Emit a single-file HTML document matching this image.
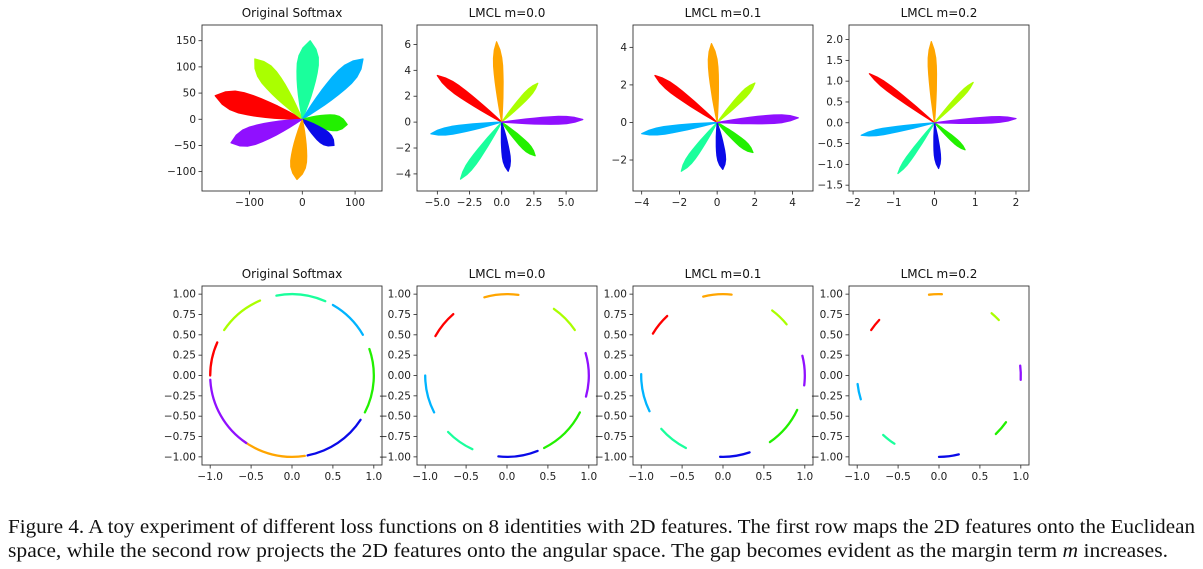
<!DOCTYPE html>
<html><head><meta charset="utf-8"><style>
html,body{margin:0;padding:0;background:#fff;}
svg{display:block;}
.tk{font-family:"DejaVu Sans","Liberation Sans",sans-serif;font-size:10.5px;fill:#222;}
.ti{font-family:"DejaVu Sans","Liberation Sans",sans-serif;font-size:12px;fill:#111;}
.cap{font-family:"Liberation Serif",serif;font-size:19.5px;fill:#111;}
</style></head><body>
<svg id="fig" width="1203" height="569" viewBox="0 0 1203 569">
<text class="cap" x="8" y="533" textLength="1187" lengthAdjust="spacingAndGlyphs">Figure 4. A toy experiment of different loss functions on 8 identities with 2D features. The first row maps the 2D features onto the Euclidean</text>
<text class="cap" x="8" y="557" textLength="1160" lengthAdjust="spacingAndGlyphs">space, while the second row projects the 2D features onto the angular space. The gap becomes evident as the margin term <tspan font-style="italic">m</tspan> increases.</text>
</svg>
<script>
// ---- data ----
const colors = ["#ff0000","#aaff00","#1aff9c","#00b4ff","#22f000","#0a0ae8","#ffa500","#9010ff"];
const clusterNames = ["red","chartreuse","teal","sky","green","blue","orange","purple"];
const titles = ["Original Softmax","LMCL m=0.0","LMCL m=0.1","LMCL m=0.2"];
// top row: cluster tip x, tip y, width (data units)
const tipX1 = [-165,-90,15,115,85,60,-10,-135];
const tipY1 = [45,115,150,115,-10,-50,-115,-45];
const wid1  = [40,35,40,35,30,25,30,35];
const tipX2 = [-5.0,2.8,-3.2,-5.5,2.6,0.5,-0.4,6.3];
const tipY2 = [3.6,3.0,-4.4,-0.9,-2.6,-3.8,6.2,0.2];
const wid2  = [0.7,0.5,0.6,0.6,0.6,0.6,0.7,0.6];
const tipX3 = [-3.3,2.0,-1.9,-4.0,1.9,0.3,-0.3,4.3];
const tipY3 = [2.5,2.1,-2.6,-0.6,-1.6,-2.5,4.2,0.25];
const wid3  = [0.45,0.35,0.4,0.4,0.4,0.45,0.5,0.45];
const tipX4 = [-1.6,0.95,-0.9,-1.8,0.75,0.1,-0.08,2.0];
const tipY4 = [1.18,0.97,-1.22,-0.3,-0.65,-1.1,1.95,0.1];
const wid4  = [0.15,0.12,0.13,0.15,0.12,0.15,0.2,0.15];
// bottom row: arc start/end angle (degrees)
const arcA1 = [156,113,66,30,-27,281,233,183];
const arcB1 = [180,146,101,60,19,327,279,236];
const arcA2 = [131,34,224,180,297,264,82,-15];
const arcB2 = [151,55,245,207,333,292,106,16];
const arcA3 = [133,39,221,179,305,268,84,-7];
const arcB3 = [149,53,243,206,335,289,104,14];
const arcA4 = [137,43,227,186,314,270,88,-3];
const arcB4 = [146,50,237,197,325,284,97,7];
// axis ranges and ticks
const xr = [[-190,151],[-6.58,7.4],[-4.46,5.08],[-2.1,2.32]];
const yr = [[-137,180],[-5.32,7.5],[-3.65,5.19],[-1.64,2.35]];
const xt = [[-100,0,100],[-5,-2.5,0,2.5,5],[-4,-2,0,2,4],[-2,-1,0,1,2]];
const xtl = [["−100","0","100"],["−5.0","−2.5","0.0","2.5","5.0"],["−4","−2","0","2","4"],["−2","−1","0","1","2"]];
const yt = [[-100,-50,0,50,100,150],[-4,-2,0,2,4,6],[-2,0,2,4],[-1.5,-1,-0.5,0,0.5,1,1.5,2]];
const ytl = [["−100","−50","0","50","100","150"],["−4","−2","0","2","4","6"],["−2","0","2","4"],["−1.5","−1.0","−0.5","0.0","0.5","1.0","1.5","2.0"]];
const bxt = [-1,-0.5,0,0.5,1];
const bxtl = ["−1.0","−0.5","0.0","0.5","1.0"];
const byt = [-1,-0.75,-0.5,-0.25,0,0.25,0.5,0.75,1];
const bytl = ["−1.00","−0.75","−0.50","−0.25","0.00","0.25","0.50","0.75","1.00"];

// ---- layout ----
const NS = "http://www.w3.org/2000/svg";
const svg = document.getElementById('fig');
const lefts = [202,417,633,849], rights = [382,597,813,1029];
const topRow = [25,191], botRow = [286,465];
const profile = [0,0.22,0.42,0.6,0.75,0.87,0.96,1,0.92,0.62,0];
function mk(tag, attrs, parent){const e=document.createElementNS(NS,tag);for(const k in attrs)e.setAttribute(k,attrs[k]);(parent||svg).appendChild(e);return e;}

function axes(g,i,x0,x1,y0,y1,sx,sy,xticks,xlabels,yticks,ylabels,title){
  xticks.forEach((v,j)=>{const px=sx(v);
    const t=mk('line',{x1:px,x2:px,y1:y1,y2:y1+3.5,stroke:'#222','stroke-width':0.8},g);
    
    const l=mk('text',{x:px,y:y1+15,'text-anchor':'middle',class:'tk'},g);l.textContent=xlabels[j];
    });
  yticks.forEach((v,j)=>{const py=sy(v);
    const t=mk('line',{x1:x0-3.5,x2:x0,y1:py,y2:py,stroke:'#222','stroke-width':0.8},g);
    
    const l=mk('text',{x:x0-6,y:py+3.5,'text-anchor':'end',class:'tk'},g);l.textContent=ylabels[j];
    });
  const f=mk('rect',{x:x0,y:y0,width:x1-x0,height:y1-y0,fill:'none',stroke:'#333','stroke-width':0.9},g);
  
  const tt=mk('text',{x:(x0+x1)/2,y:y0-8,'text-anchor':'middle',class:'ti'},g);tt.textContent=title;
  
}

const tX=[tipX1,tipX2,tipX3,tipX4], tY=[tipY1,tipY2,tipY3,tipY4], W=[wid1,wid2,wid3,wid4];
const aA=[arcA1,arcA2,arcA3,arcA4], aB=[arcB1,arcB2,arcB3,arcB4];

for(let i=0;i<4;i++){
  const x0=lefts[i],x1=rights[i],y0=topRow[0],y1=topRow[1];
  const sx=v=>x0+(v-xr[i][0])/(xr[i][1]-xr[i][0])*(x1-x0);
  const sy=v=>y1-(v-yr[i][0])/(yr[i][1]-yr[i][0])*(y1-y0);
  const g=mk('g',{});
  
  
  for(let c=0;c<8;c++){
    const tx=tX[i][c],ty=tY[i][c],w=W[i][c];
    const L=Math.hypot(tx,ty),ux=tx/L,uy=ty/L,nx=-uy,ny=ux;
    const side1=[],side2=[];
    profile.forEach((p,k)=>{const t=k/(profile.length-1);
      side1.push([sx(tx*t+nx*w/2*p),sy(ty*t+ny*w/2*p)]);
      side2.push([sx(tx*t-nx*w/2*p),sy(ty*t-ny*w/2*p)]);});
    const pts=side1.concat(side2.reverse()).map(p=>p[0].toFixed(1)+','+p[1].toFixed(1)).join(' ');
    const poly=mk('polygon',{points:pts,fill:colors[c],stroke:colors[c],'stroke-width':1.2,'stroke-linejoin':'round'},g);
    
    
  }
  axes(g,i,x0,x1,y0,y1,sx,sy,xt[i],xtl[i],yt[i],ytl[i],titles[i]);

  const b0=botRow[0],b1=botRow[1];
  const bx=v=>x0+(v+1.1)/2.2*(x1-x0);
  const by=v=>b1-(v+1.1)/2.2*(b1-b0);
  const gb=mk('g',{});
  
  
  for(let c=0;c<8;c++){
    const a=aA[i][c]*Math.PI/180,b=aB[i][c]*Math.PI/180;
    const large=(aB[i][c]-aA[i][c])>180?1:0;
    const d='M'+bx(Math.cos(a)).toFixed(1)+','+by(Math.sin(a)).toFixed(1)+' A'+((x1-x0)/2.2).toFixed(1)+','+((b1-b0)/2.2).toFixed(1)+' 0 '+large+' 0 '+bx(Math.cos(b)).toFixed(1)+','+by(Math.sin(b)).toFixed(1);
    const p=mk('path',{d:d,fill:'none',stroke:colors[c],'stroke-width':2.3,'stroke-linecap':'round'},gb);
    
    
  }
  axes(gb,i,x0,x1,b0,b1,bx,by,bxt,bxtl,byt,bytl,titles[i]);
}
</script>
</body></html>
